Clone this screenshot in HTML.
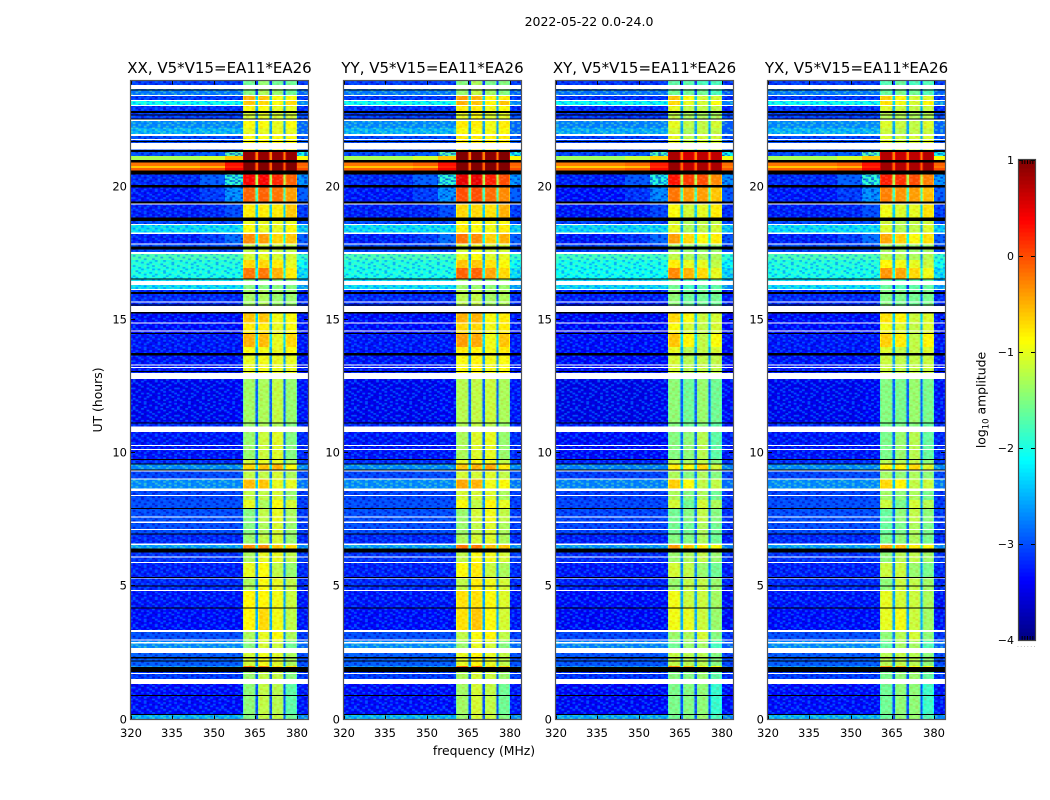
<!DOCTYPE html>
<html lang="en">
<head>
<meta charset="utf-8">
<title>2022-05-22 amplitude waterfall</title>
<style>
html,body{margin:0;padding:0;background:#fff;width:1050px;height:800px;overflow:hidden}
svg{display:block}
text{font-family:"DejaVu Sans","Liberation Sans",sans-serif;fill:#000}
</style>
</head>
<body>
<svg id="fig" xmlns="http://www.w3.org/2000/svg" width="1050" height="800" viewBox="0 0 1050 800">
<rect x="0" y="0" width="1050" height="800" fill="#fff"/>
<defs>
<pattern id="speckle-deep" patternUnits="userSpaceOnUse" width="44.25" height="27.2"></pattern>
<pattern id="speckle-light" patternUnits="userSpaceOnUse" width="44.25" height="27.2"></pattern>
<pattern id="speckle-band" patternUnits="userSpaceOnUse" width="44.25" height="27.2"></pattern>
</defs>
<text x="589" y="26" font-size="12.5" text-anchor="middle">2022-05-22 0.0-24.0</text>
<text x="484" y="755" font-size="12.4" text-anchor="middle">frequency (MHz)</text>
<text x="0" y="0" font-size="12.4" text-anchor="middle" transform="translate(102,400) rotate(-90)">UT (hours)</text>
<text x="0" y="0" font-size="12.4" text-anchor="middle" transform="translate(985.5,400) rotate(-90)">log<tspan font-size="8.5" dy="3">10</tspan><tspan dy="-3"> amplitude</tspan></text>
<text x="1017" y="647" font-size="6" letter-spacing="1.4" style="fill:#888">......</text>
<g id="panels"></g>
<g id="colorbar"></g>
</svg>
<script>
// ---------- chart data ----------
const panelTitles = ["XX, V5*V15=EA11*EA26","YY, V5*V15=EA11*EA26","XY, V5*V15=EA11*EA26","YX, V5*V15=EA11*EA26"];
const panelBandOffset = [[0,0,0,0],[0.1,0.1,0.05,0.1],[-0.1,-0.3,-0.2,-0.2],[-0.15,-0.25,-0.2,-0.15]];
const panelLowOffset = [-0.1,-0.1,-0.15,-0.1];
const freqTicks = [320,335,350,365,380];
const hourTicks = [0,5,10,15,20];
const colorbarTicks = [1,0,-1,-2,-3,-4];
const colorbarTickLabels = ["1","0","\u22121","\u22122","\u22123","\u22124"];
// frequency edges of the spectral segments (MHz)
const segmentEdgesMHz = [320,345,354,360.5,360.8,364.7,365,365.9,366.2,369.7,370,370.9,371.2,374.8,375.1,375.9,376.2,379.7,380,384];
// time edges of the rows (hours, top to bottom)
const rowEdgesHours = [24,23.76,23.44,23.26,23.07,22.79,22.52,22.22,21.96,21.40,21.17,20.93,20.79,20.72,20.61,20.49,20.06,19.42,18.84,18.58,18.28,17.86,17.56,17.26,16.96,16.55,16.14,15.53,14.90,14.52,13.99,13.73,13.02,11.14,10.80,9.77,9.60,9.37,9.04,8.66,8.25,7.95,7.42,6.97,6.59,6.41,5.88,5.35,4.87,4.19,3.36,2.95,2.50,2.01,1.78,1.33,0.21,0];
// log10 amplitude per row, per spectral region
const lowA = [-3,-2.7,-3,-2,-3.05,-3,-2.6,-2.4,-2.9,-2.9,-1.2,-0.1,-0.5,0,0,-3.1,-3.2,-3.15,-2.9,-2.2,-3.15,-2.9,-1.7,-1.9,-1.95,-2.2,-3.1,-3.25,-3.25,-3.2,-3.2,-3.2,-3.35,-3.1,-3.2,-3.1,-2.6,-2.95,-2.6,-2.95,-2.9,-2.9,-2.9,-3.1,-2.5,-3.05,-3.15,-3.1,-3.2,-3.25,-2.9,-2.6,-2.8,-2.6,-3,-3.25,-2.4];
const lowB = [-3,-2.7,-3,-2,-3.05,-3,-2.6,-2.4,-2.9,-2.8,-1,0,-0.4,0.1,0.1,-2.8,-3,-3.1,-2.9,-2.2,-3,-2.9,-1.7,-1.9,-1.95,-2.2,-3.1,-3.25,-3.25,-3.2,-3.2,-3.2,-3.35,-3.1,-3.2,-3.1,-2.6,-2.9,-2.6,-2.95,-2.9,-2.9,-2.9,-3.1,-2.5,-3.05,-3.15,-3.1,-3.2,-3.25,-2.9,-2.6,-2.8,-2.6,-3,-3.25,-2.4];
const lowC = [-3,-2.7,-3,-2,-3.05,-3,-2.6,-2.4,-2.9,-1.6,-0.5,0.4,0.3,0.5,0.5,-1.8,-2.5,-2.9,-2.9,-2.2,-2.7,-2.9,-1.7,-1.9,-1.95,-2.2,-3.1,-3.25,-3.25,-3.2,-3.2,-3.2,-3.3,-3.1,-3.2,-3.1,-2.6,-2.9,-2.6,-2.95,-2.9,-2.9,-2.9,-3.1,-2.5,-3.05,-3.15,-3.1,-3.2,-3.25,-2.9,-2.6,-2.8,-2.6,-3,-3.25,-2.4];
const band1 = [-1.6,-1.5,-0.5,-0.6,-0.9,-1.1,-0.9,-1,-0.9,0.9,0.9,1,1,1,1,0.4,-0.1,-0.8,-1,-0.9,-0.3,-1.2,-1.1,-0.7,-0.2,-1.5,-1.35,-0.6,-0.8,-0.5,-0.9,-1,-1.35,-1.4,-1.4,-1.1,-0.7,-1.2,-0.55,-1.2,-1,-1.5,-1.5,-1.4,-0.3,-1.3,-1,-1.3,-0.85,-0.85,-1.3,-1.5,-1.1,-0.2,-1.4,-1.45,-1.5];
const band2 = [-1.4,-1.3,-0.6,-0.7,-0.9,-1,-0.9,-1,-0.9,0.9,0.9,1,1,1,1,0.4,-0.1,-0.8,-1,-1,-0.4,-1.1,-1,-0.7,-0.2,-1.5,-1.3,-0.6,-0.8,-0.55,-0.95,-0.95,-1.3,-1.3,-1.15,-1,-0.6,-1.2,-0.6,-1.2,-1.3,-1.2,-1.3,-1.2,-0.3,-1,-0.9,-0.9,-0.85,-0.7,-1,-1.1,-0.95,-0.25,-1.2,-1.2,-1.2];
const band3 = [-1.6,-1.4,-0.9,-0.9,-1,-1.1,-1,-1,-0.9,0.9,0.9,1,1,1,1,0.2,-0.2,-0.8,-1,-1,-0.7,-1.2,-1.1,-0.8,-0.5,-1.5,-1.4,-0.95,-1,-1,-1,-1,-1.2,-1.3,-1.05,-1,-0.5,-1.1,-1,-1.1,-0.9,-1,-1.1,-1.1,-0.6,-1,-1.2,-1,-0.95,-0.95,-0.9,-1.15,-1.05,-0.7,-1.2,-1.25,-1.2];
const band4 = [-1.6,-1.6,-0.9,-0.7,-1,-1.1,-0.9,-1,-0.9,0.9,0.9,1,1,1,1,-0.1,-0.4,-0.6,-1,-0.9,-0.6,-1.2,-1.1,-1,-0.8,-1.5,-1.4,-0.9,-0.9,-0.7,-0.9,-1,-1.4,-1.5,-1.5,-1.3,-0.9,-1.3,-1,-1.4,-1.1,-1.3,-1.4,-1.4,-0.7,-1.2,-1.4,-1.2,-1.15,-1.2,-1.3,-1.6,-1.3,-0.7,-1.5,-1.7,-1.6];
const edgeBand = [-3,-2.8,-3,-2.6,-3.1,-2.9,-2.8,-2.8,-2.8,-1.9,-0.8,0,-0.1,0.1,0.1,-2.5,-2.8,-3,-2.9,-2.3,-2.8,-2.9,-1.8,-2,-2.2,-2.5,-3.1,-3.2,-3.2,-3.2,-3.2,-3.2,-3.2,-3.1,-3.1,-3,-2.6,-2.9,-2.7,-3,-3,-3,-3,-3.1,-2.6,-3,-3.1,-3.1,-3.2,-3.2,-3,-2.8,-2.9,-2.8,-3,-3.2,-2.6];
// flagged (white) and dropped (black) time ranges, hours
const whiteGapsHours = [[23.84,23.69],[23.46,23.42],[23.27,23.23],[23.08,23.05],[22.54,22.48],[21.99,21.92],[21.81,21.77],[21.66,21.41],[19.38,19.35],[18.61,18.58],[18.29,18.24],[17.89,17.84],[17.56,17.49],[16.47,16.32],[16.17,16.13],[15.71,15.67],[15.53,15.31],[14.91,14.87],[14.61,14.58],[13.34,13.31],[13.24,13.20],[13.01,12.79],[11.00,10.80],[10.31,10.27],[10.17,10.14],[9.35,9.31],[9.06,9.03],[8.67,8.58],[8.43,8.40],[7.62,7.58],[7.43,7.39],[7.16,7.12],[6.62,6.56],[6.12,6.08],[5.91,5.87],[5.33,5.30],[4.86,4.84],[3.36,3.29],[3.01,2.98],[2.91,2.85],[2.69,2.50],[1.75,1.71],[1.52,1.33]];
const blackGapsHours = [[23.67,23.65],[22.86,22.78],[22.73,22.69],[22.58,22.54],[21.73,21.69],[21.39,21.32],[21.02,20.93],[20.62,20.48],[20.07,19.99],[19.45,19.38],[18.85,18.72],[17.76,17.66],[16.56,16.52],[16.06,15.98],[15.58,15.56],[15.30,15.26],[14.52,14.50],[13.76,13.68],[13.09,13.05],[11.16,11.14],[9.79,9.75],[9.62,9.59],[9.40,9.35],[7.95,7.92],[6.99,6.97],[6.42,6.27],[5.35,5.33],[5.04,5.02],[4.21,4.19],[2.34,2.30],[2.22,2.20],[1.98,1.78],[0.92,0.89],[0.21,0.18]];
// hand-typed grain for the noisy background ("+" lighter, "-" darker)
const speckleTile = [
"+.-+..-.+.+-..+.",
".+..-+..-..+.-.+",
"-.+...+-.+..-+..",
".-.+-..+...-+..-",
"+..-.+.-+-.+...+",
"..+-..+...+.-+-.",
"-+...-.+-..+..+.",
"..-+.+...+-..-.+",
"+...-.+-...+.+-.",
".-+..+..-+.-..+.",
"+..-+.-..+..+.-.",
".+...-.+..-+..-+",
"-.+.+..-+..-.+..",
"..-.+-...+.+-..+",
".+.-..+-.-+..+-.",
"+-..+...+..-+..."
];
// ---------- layout ----------
const panelLeft = [131,344,556,768];
const panelWidth = 177, plotTop = 80.6, plotBottom = 719.5;
const freqMin = 320, freqMax = 384, hourMin = 0, hourMax = 24;
const cbLeft = 1019, cbWidth = 16, cbTop = 160, cbBottom = 640, cbMin = -4, cbMax = 1;
const rollOff = 0.25;
const NS = "http://www.w3.org/2000/svg";
function xScale(p, f){ return panelLeft[p] + (f - freqMin) / (freqMax - freqMin) * panelWidth; }
function yScale(h){ return plotBottom - (h - hourMin) / (hourMax - hourMin) * (plotBottom - plotTop); }
function cbScale(v){ return cbBottom - (v - cbMin) / (cbMax - cbMin) * (cbBottom - cbTop); }
function clamp01(x){ return Math.max(0, Math.min(1, x)); }
function jet(v){
  const t = clamp01((v - cbMin) / (cbMax - cbMin));
  const r = clamp01(Math.min(4*t - 1.5, -4*t + 4.5));
  const g = clamp01(Math.min(4*t - 0.5, -4*t + 3.5));
  const b = clamp01(Math.min(4*t + 0.5, -4*t + 2.5));
  return "rgb(" + Math.round(r*255) + "," + Math.round(g*255) + "," + Math.round(b*255) + ")";
}
function mk(tag, attrs, parent){
  const el = document.createElementNS(NS, tag);
  for (const k in attrs) el.setAttribute(k, attrs[k]);
  parent.appendChild(el);
  return el;
}
// speckle tiles
const cellW = panelWidth / (freqMax - freqMin), cellH = 1.7;
function fillTile(id, plus, plusOp, minus, minusOp){
  const pattern = document.getElementById(id);
  speckleTile.forEach(function(line, r){
    line.split("").forEach(function(ch, c){
      if (ch === ".") return;
      const s = mk("rect", {x:c*cellW, y:r*cellH, width:cellW, height:cellH, fill: ch === "+" ? plus : minus, opacity: ch === "+" ? plusOp : minusOp}, pattern);
      
      
    });
  });
}
fillTile("speckle-deep", "#0068ff", 0.75, "#0000b8", 0.6);
fillTile("speckle-light", "#70ffa0", 0.45, "#0060ff", 0.5);
fillTile("speckle-band", "#ffffff", 0.12, "#ff5000", 0.14);
const panelsG = document.getElementById("panels");
panelTitles.forEach(function(title, p){
  const g = mk("g", {}, panelsG);
  
  
  const heat = mk("g", {"shape-rendering":"crispEdges"}, g);
  
  
  for (let i = 0; i < rowEdgesHours.length - 1; i++){
    const bo = panelBandOffset[p], lo = panelLowOffset[p];
    const mean = (band1[i] + band2[i] + band3[i] + band4[i]) / 4;
    const notch = mean - 1.6 + Math.max(0, mean) * 0.5;
    const b1 = band1[i]+bo[0], b2 = band2[i]+bo[1], b3 = band3[i]+bo[2], b4 = band4[i]+bo[3];
    const levels = [lowA[i]+lo, lowB[i]+lo, lowC[i]+lo,
      b1-rollOff, b1, b1-rollOff, notch,
      b2-rollOff, b2, b2-rollOff, notch,
      b3-rollOff, b3, b3-rollOff, notch,
      b4-rollOff, b4, b4-rollOff, edgeBand[i]+lo];
    const y0 = yScale(rowEdgesHours[i]), y1 = yScale(rowEdgesHours[i+1]);
    levels.forEach(function(v, s){
      const x0 = xScale(p, segmentEdgesMHz[s]), x1 = xScale(p, segmentEdgesMHz[s+1]);
      const cell = mk("rect", {x:x0, y:y0, width:x1-x0, height:y1-y0, fill:jet(v)}, heat);
      
      
    });
    if (lowA[i] < -1.5){
      const tile = lowA[i] < -2.7 ? "url(#speckle-deep)" : "url(#speckle-light)";
      const x0 = xScale(p, segmentEdgesMHz[0]), x1 = xScale(p, segmentEdgesMHz[3]);
      const grain = mk("rect", {x:x0, y:y0, width:x1-x0, height:y1-y0, fill:tile}, heat);
      
      
      const ex0 = xScale(p, segmentEdgesMHz[18]), ex1 = xScale(p, segmentEdgesMHz[19]);
      const grainEdge = mk("rect", {x:ex0, y:y0, width:ex1-ex0, height:y1-y0, fill:tile}, heat);
      
      
    }
    if (band1[i] < 0.6){
      const bx0 = xScale(p, segmentEdgesMHz[3]), bx1 = xScale(p, segmentEdgesMHz[18]);
      const bandGrain = mk("rect", {x:bx0, y:y0, width:bx1-bx0, height:y1-y0, fill:"url(#speckle-band)"}, heat);
      
      
    }
  }
  const L = xScale(p, freqMin), R = xScale(p, freqMax);
  whiteGapsHours.forEach(function(gap){
    const y0 = yScale(gap[0]), y1 = yScale(gap[1]);
    const w = mk("rect", {x:L, y:y0, width:R-L, height:Math.max(1, y1-y0), fill:"#fff"}, heat);
    
    
  });
  blackGapsHours.forEach(function(gap){
    const y0 = yScale(gap[0]), y1 = yScale(gap[1]);
    const b = mk("rect", {x:L, y:y0, width:R-L, height:Math.max(1, y1-y0), fill:"#000"}, heat);
    
    
  });
  // ticks
  freqTicks.forEach(function(f){
    const x = Math.round(xScale(p, f)) + 0.5;
    const t1 = mk("line", {x1:x, x2:x, y1:plotBottom, y2:plotBottom-4, stroke:"#000", "stroke-width":1}, g);
    
    
    const t2 = mk("line", {x1:x, x2:x, y1:plotTop, y2:plotTop+4, stroke:"#000", "stroke-width":1}, g);
    
    
    const lab = mk("text", {x:x-0.5, y:737, "font-size":11.5, "text-anchor":"middle"}, g);
    lab.textContent = String(f);
    
    
  });
  hourTicks.forEach(function(h){
    const y = Math.round(yScale(h)) - 0.5;
    const t1 = mk("line", {x1:L, x2:L+4, y1:y, y2:y, stroke:"#000", "stroke-width":1}, g);
    
    
    const t2 = mk("line", {x1:R, x2:R-4, y1:y, y2:y, stroke:"#000", "stroke-width":1}, g);
    
    
    const lab = mk("text", {x:L-4, y:y+4, "font-size":11.5, "text-anchor":"end"}, g);
    lab.textContent = String(h);
    
    
  });
  const frame = mk("rect", {x:L-0.5, y:plotTop-0.1, width:R-L+1, height:plotBottom-plotTop+0.1, fill:"none", stroke:"#555", "stroke-width":1.2}, g);
  
  
  const tt = mk("text", {x:(L+R)/2, y:73, "font-size":15, "text-anchor":"middle"}, g);
  tt.textContent = title;
  
  
});
// colorbar
const cb = document.getElementById("colorbar");
const cbSteps = 120;
const cbRamp = mk("g", {"shape-rendering":"crispEdges"}, cb);


for (let i = 0; i < cbSteps; i++){
  const v0 = cbMin + (cbMax - cbMin) * i / cbSteps;
  const v1 = cbMin + (cbMax - cbMin) * (i + 1) / cbSteps;
  const r = mk("rect", {x:cbLeft, y:cbScale(v1), width:cbWidth, height:cbScale(v0)-cbScale(v1)+0.5, fill:jet((v0+v1)/2)}, cbRamp);
  
  
}
colorbarTicks.forEach(function(v, i){
  const y = Math.round(cbScale(v)) + 0.5;
  const t1 = mk("line", {x1:cbLeft, x2:cbLeft+4, y1:y, y2:y, stroke:"#000"}, cb);
  
  
  const t2 = mk("line", {x1:cbLeft+cbWidth, x2:cbLeft+cbWidth-4, y1:y, y2:y, stroke:"#000"}, cb);
  
  
  const lab = mk("text", {x:cbLeft-5, y:y+3.5, "font-size":11, "text-anchor":"end"}, cb);
  lab.textContent = colorbarTickLabels[i];
  
  
});
for (let i = 1; i <= 5; i++){
  const x = cbLeft + i * cbWidth / 6 + 0.5;
  const a = mk("line", {x1:x, x2:x, y1:cbTop, y2:cbTop+4, stroke:"#000"}, cb);
  
  
  const b = mk("line", {x1:x, x2:x, y1:cbBottom, y2:cbBottom-4, stroke:"#000"}, cb);
  
  
}
const cbFrame = mk("rect", {x:cbLeft-0.5, y:cbTop-0.5, width:cbWidth+1, height:cbBottom-cbTop+1, fill:"none", stroke:"#444", "stroke-width":1.2}, cb);


</script>
</body>
</html>
